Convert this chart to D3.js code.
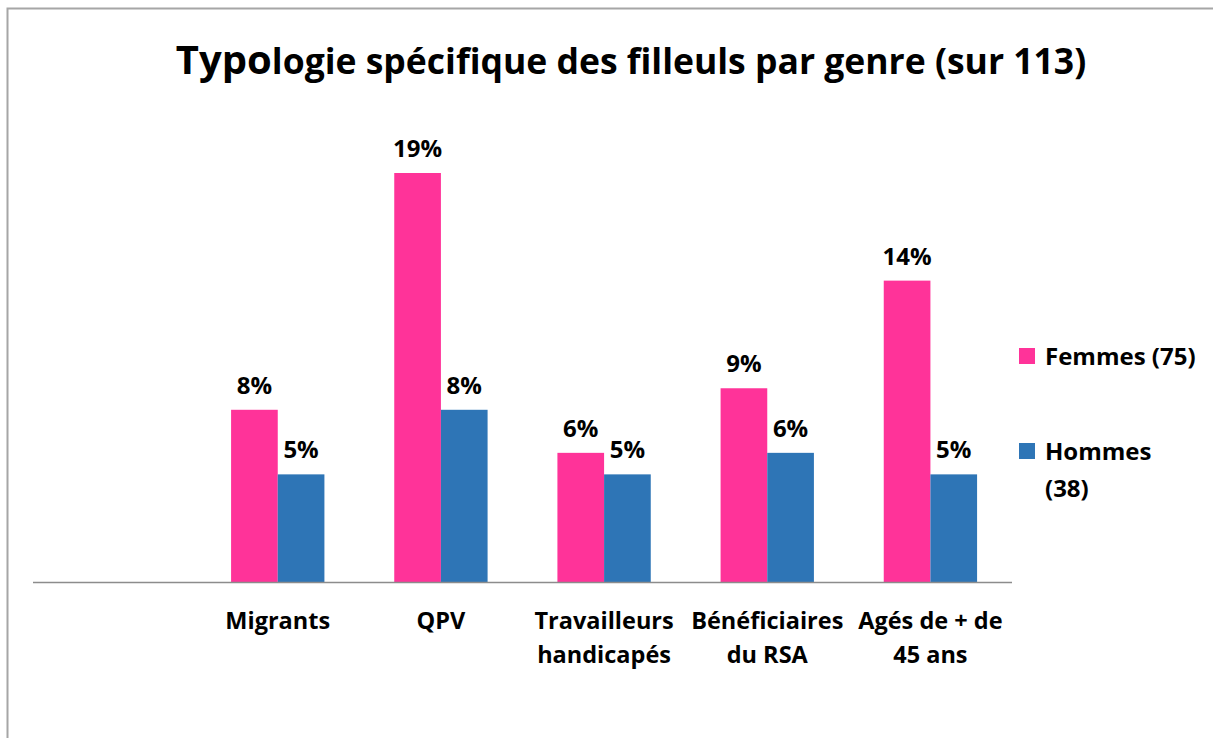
<!DOCTYPE html>
<html>
<head>
<meta charset="utf-8">
<script src="https://cdn.jsdelivr.net/npm/d3@7"></script>
<style>
  body { margin: 0; background: #fff; }
  svg text { font-family: "Open Sans", "Liberation Sans", sans-serif; font-weight: 700; fill: #000; }
</style>
</head>
<body>
<div id="chart"></div>
<script>
// data
const categories = ["", "Migrants", "QPV", "Travailleurs handicapés", "Bénéficiaires du RSA", "Agés de + de 45 ans"];
const catLines = [[], ["Migrants"], ["QPV"], ["Travailleurs", "handicapés"], ["Bénéficiaires", "du RSA"], ["Agés de + de", "45 ans"]];
const femmes = [null, 8, 19, 6, 9, 14];
const hommes = [null, 5, 8, 5, 6, 5];
const seriesNames = ["Femmes (75)", "Hommes (38)"];
const legendLines = [["Femmes (75)"], ["Hommes", "(38)"]];
const colors = ["#FF3399", "#2E75B6"];

const width = 1213, height = 738;
const margin = { top: 173, right: 201, bottom: 156, left: 33 };

const svg = d3.select("#chart").append("svg")
  .attr("width", width)
  .attr("height", height);

// frame
svg.append("rect")
  .attr("x", 7.5).attr("y", 8.5)
  .attr("width", width + 10).attr("height", height + 10)
  .attr("fill", "#fff")
  .attr("stroke", "#a6a6a6")
  .attr("stroke-width", 2);

// scales
const x = d3.scaleBand()
  .domain(categories)
  .range([margin.left, width - margin.right])
  .padding(0);

const xSub = d3.scaleBand()
  .domain(seriesNames)
  .range([0, x.bandwidth() * 0.572])
  .padding(0);

const y = d3.scaleLinear()
  .domain([0, 19])
  .range([height - margin.bottom, margin.top]);

// title
const title = svg.append("text")
  .attr("x", 631)
  .attr("y", 74)
  .attr("text-anchor", "middle")
  .style("font-size", "35.5px");
title.append("tspan").style("font-size", "40px").text("Typo");
title.append("tspan").text("logie spécifique des filleuls par genre (sur 113)");

// bars
const rows = categories.map((c, i) => ({ cat: c, values: [femmes[i], hommes[i]] }));

const groups = svg.selectAll(".grp")
  .data(rows.filter(d => d.values[0] != null))
  .enter()
  .append("g")
  .attr("class", "grp")
  .attr("transform", d => `translate(${x(d.cat) + (x.bandwidth() - xSub.range()[1]) / 2},0)`);

groups.selectAll("rect")
  .data(d => d.values.map((v, j) => ({ name: seriesNames[j], value: v, j })))
  .enter()
  .append("rect")
  .attr("x", d => xSub(d.name))
  .attr("y", d => y(d.value))
  .attr("width", xSub.bandwidth())
  .attr("height", d => y(0) - y(d.value))
  .attr("fill", d => colors[d.j]);

groups.selectAll(".lbl")
  .data(d => d.values.map((v, j) => ({ name: seriesNames[j], value: v, j })))
  .enter()
  .append("text")
  .attr("class", "lbl")
  .attr("x", d => xSub(d.name) + xSub.bandwidth() / 2)
  .attr("y", d => y(d.value) - 16)
  .attr("text-anchor", "middle")
  .style("font-size", "24px")
  .text(d => d.value + "%");

// axis line
svg.append("line")
  .attr("x1", margin.left).attr("x2", width - margin.right)
  .attr("y1", y(0) + 0.5).attr("y2", y(0) + 0.5)
  .attr("stroke", "#8c8c8c")
  .attr("stroke-width", 1.5);

// category labels
categories.forEach((c, i) => {
  const t = svg.append("text")
    .attr("text-anchor", "middle")
    .style("font-size", "23.5px");
  catLines[i].forEach((line, k) => {
    t.append("tspan")
      .attr("x", x(c) + x.bandwidth() / 2)
      .attr("y", 629 + k * 34)
      .text(line);
  });
});

// legend
const legend = svg.selectAll(".legend")
  .data(seriesNames)
  .enter()
  .append("g")
  .attr("class", "legend")
  .attr("transform", (d, i) => `translate(1019,${348 + i * 95})`);

legend.append("rect")
  .attr("width", 16).attr("height", 16)
  .attr("fill", (d, i) => colors[i]);

legend.append("text")
  .style("font-size", "24px")
  .each(function (d, i) {
    legendLines[i].forEach((line, k) => {
      d3.select(this).append("tspan")
        .attr("x", 26)
        .attr("y", 17 + k * 37)
        .text(line);
    });
  });
</script>
</body>
</html>
